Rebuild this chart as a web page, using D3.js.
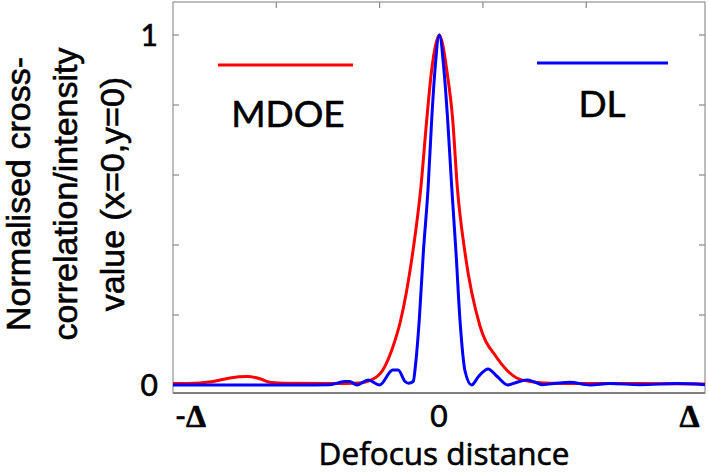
<!DOCTYPE html>
<html>
<head>
<meta charset="utf-8">
<script src="https://cdn.jsdelivr.net/npm/d3@7"></script>
<style>
  html, body { margin: 0; padding: 0; background: #fff; }
  svg { display: block; }
</style>
</head>
<body>
<svg id="chart" width="708" height="474"></svg>
<script>
// ---- data (x in sample index, peak at the in-focus plane) ----
const mdoeX = [0, 3, 26, 39, 55, 72, 84, 94, 113, 152, 181, 191, 203, 213, 220, 232, 240, 245.6, 250.4, 255, 257.8, 260.5, 265, 270.8, 275.2, 282.7, 297, 313, 323, 332.7, 345.6, 365, 400, 450, 515];
const mdoeY = [0.004, 0.004, 0.006, 0.01, 0.02, 0.024, 0.018, 0.008, 0.005, 0.004, 0.006, 0.013, 0.042, 0.11, 0.18, 0.377, 0.566, 0.757, 0.9, 0.98, 1.0, 0.98, 0.9, 0.757, 0.566, 0.377, 0.17, 0.08, 0.043, 0.02, 0.01, 0.005, 0.004, 0.004, 0.003];
const dlX = [0, 74, 123, 152, 166, 171, 178, 189, 200, 212.7, 218, 224.6, 228, 232.6, 234.5, 238.4, 242.3, 247, 250.4, 253.6, 257.8, 262.3, 265.9, 269.8, 274, 277.8, 282.7, 289, 296, 305, 313.6, 324, 333, 342.7, 350.4, 358, 371, 384, 403.7, 423, 452, 488, 515];
const dlY = [0.0, 0.0, 0.0, 0.001, 0.01, 0.01, 0.0, 0.014, 0.0, 0.043, 0.043, 0.01, 0.005, 0.01, 0.05, 0.186, 0.377, 0.566, 0.757, 0.9, 1.0, 0.9, 0.757, 0.566, 0.377, 0.186, 0.04, 0.0, 0.025, 0.046, 0.025, 0.0, 0.008, 0.014, 0.008, 0.001, 0.005, 0.008, 0.0, 0.004, 0.001, 0.004, 0.001];
const seriesNames = ["MDOE", "DL"];
const seriesColors = ["#ff0000", "#0000ff"];
const yTicks = [0, 0.2, 0.4, 0.6, 0.8, 1];
const yTickLabels = {0: "0", 1: "1"};
const xTopTicks = [100, 200, 300, 400];
const xLabelPos = [17, 257.5, 500];
const xLabelText = [["-", "Δ"], ["0", ""], ["", "Δ"]];
const yTitleLines = ["Normalised cross-", "correlation/intensity", "value (x=0,y=0)"];
const xTitle = "Defocus distance";

// ---- layout ----
const L = 173, R = 705, T = 2, B = 393;
const svg = d3.select("#chart");
const x = d3.scaleLinear().domain([0, 515]).range([L, R]);
const y = d3.scaleLinear().domain([0, 1]).range([385, 35]);

// box
svg.append("rect").attr("x", L).attr("y", T).attr("width", R - L).attr("height", B - T)
  .attr("fill", "none").attr("stroke", "#9a9a9a").attr("stroke-width", 1.3);
svg.append("line").attr("x1", L).attr("x2", R).attr("y1", B).attr("y2", B)
  .attr("stroke", "#808080").attr("stroke-width", 2);

// y ticks (left and right, inward)
const tl = 6;
svg.append("g").selectAll("line").data(yTicks).join("line")
  .attr("x1", L).attr("x2", L + tl).attr("y1", d => y(d)).attr("y2", d => y(d))
  .attr("stroke", "#888").attr("stroke-width", 1.2);
svg.append("g").selectAll("line").data(yTicks).join("line")
  .attr("x1", R).attr("x2", R - tl).attr("y1", d => y(d)).attr("y2", d => y(d))
  .attr("stroke", "#888").attr("stroke-width", 1.2);
// top ticks
svg.append("g").selectAll("line").data(xTopTicks).join("line")
  .attr("x1", d => x(d)).attr("x2", d => x(d)).attr("y1", T).attr("y2", T + tl)
  .attr("stroke", "#888").attr("stroke-width", 1.2);

const heavy = sel => sel.style("fill", "#000").style("stroke", "#000").style("stroke-width", "0.6px");

// y tick labels
svg.append("g").selectAll("text").data(yTicks.filter(d => yTickLabels[d] !== undefined)).join("text")
  .attr("x", 158).attr("y", d => y(d)).attr("dy", "0.36em")
  .attr("text-anchor", "end")
  .style("font-family", "Lato, sans-serif").style("font-size", "30px")
  .call(heavy)
  .text(d => yTickLabels[d]);

// x labels
xLabelPos.forEach((p, i) => {
  const t = svg.append("text").attr("x", x(p)).attr("y", 427).attr("text-anchor", "middle")
    .style("font-family", "Lato, sans-serif").style("font-size", "30px").call(heavy);
  const [a, b] = xLabelText[i];
  if (a) t.append("tspan").text(a);
  if (b) t.append("tspan").style("font-family", "'Liberation Serif', serif").style("font-weight", "bold").style("font-size", "32px").text(b);
});

// x title
svg.append("text").attr("x", 444).attr("y", 465).attr("text-anchor", "middle")
  .style("font-family", "'Open Sans', sans-serif").style("font-size", "31.5px").call(heavy)
  .text(xTitle);

// y title
const yt = svg.append("text")
  .attr("transform", "translate(2,194) rotate(-90)")
  .attr("text-anchor", "middle")
  .style("font-family", "'Liberation Sans', Arial, sans-serif").style("font-size", "34px").call(heavy);
yTitleLines.forEach((s, i) => {
  yt.append("tspan").attr("x", 0).attr("y", 28 + i * 47).text(s);
});

// lines
const line = d3.line().x(d => x(d[0])).y(d => y(d[1])).curve(d3.curveMonotoneX);
const series = [d3.zip(mdoeX, mdoeY), d3.zip(dlX, dlY)];
series.forEach((s, i) => {
  svg.append("path").datum(s).attr("d", line).attr("fill", "none")
    .attr("stroke", seriesColors[i]).attr("stroke-width", 3).attr("stroke-linejoin", "round");
});

// legend
const legX = [[218, 353], [537, 668]];
const legY = [65, 63];
const legText = [[288, 127], [602, 117]];
seriesNames.forEach((n, i) => {
  svg.append("line").attr("x1", legX[i][0]).attr("x2", legX[i][1]).attr("y1", legY[i]).attr("y2", legY[i])
    .attr("stroke", seriesColors[i]).attr("stroke-width", 3);
  svg.append("text").attr("x", legText[i][0]).attr("y", legText[i][1]).attr("text-anchor", "middle")
    .style("font-family", "Lato, sans-serif").style("font-size", "37px").call(heavy)
    .text(n);
});
</script>
</body>
</html>
